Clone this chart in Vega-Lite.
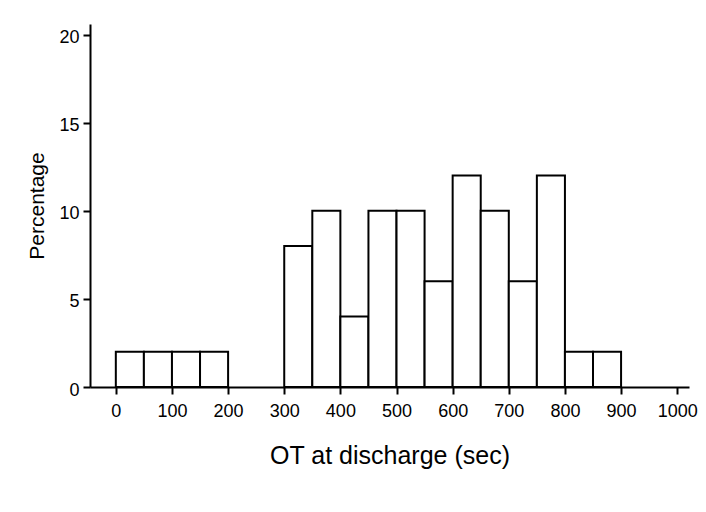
{
  "$schema": "https://vega.github.io/schema/vega-lite/v6.json",
  "autosize": "none",
  "width": 599,
  "height": 363,
  "padding": {"left": 90, "top": 24, "right": 17, "bottom": 125},
  "background": "white",
  "data": {
    "values": [
      {"bin_start": 0, "bin_end": 50, "pct": 2},
      {"bin_start": 50, "bin_end": 100, "pct": 2},
      {"bin_start": 100, "bin_end": 150, "pct": 2},
      {"bin_start": 150, "bin_end": 200, "pct": 2},
      {"bin_start": 300, "bin_end": 350, "pct": 8},
      {"bin_start": 350, "bin_end": 400, "pct": 10},
      {"bin_start": 400, "bin_end": 450, "pct": 4},
      {"bin_start": 450, "bin_end": 500, "pct": 10},
      {"bin_start": 500, "bin_end": 550, "pct": 10},
      {"bin_start": 550, "bin_end": 600, "pct": 6},
      {"bin_start": 600, "bin_end": 650, "pct": 12},
      {"bin_start": 650, "bin_end": 700, "pct": 10},
      {"bin_start": 700, "bin_end": 750, "pct": 6},
      {"bin_start": 750, "bin_end": 800, "pct": 12},
      {"bin_start": 800, "bin_end": 850, "pct": 2},
      {"bin_start": 850, "bin_end": 900, "pct": 2}
    ]
  },
  "mark": {"type": "rect", "fill": "white", "stroke": "black", "strokeWidth": 2},
  "encoding": {
    "x": {
      "field": "bin_start",
      "type": "quantitative",
      "scale": {"domain": [-46, 1021], "nice": false, "zero": false},
      "axis": {
        "values": [0, 100, 200, 300, 400, 500, 600, 700, 800, 900, 1000],
        "format": "d",
        "title": "OT at discharge (sec)",
        "titleFontSize": 25,
        "titleFontWeight": "normal",
        "titleBaseline": "alphabetic",
        "titleX": 299.5,
        "titleY": 76,
        "tickSize": 7,
        "labelPadding": 8,
        "labelFontSize": 18
      }
    },
    "x2": {"field": "bin_end"},
    "y": {
      "field": "pct",
      "type": "quantitative",
      "scale": {"domain": [0, 20.6], "nice": false},
      "axis": {
        "values": [0, 5, 10, 15, 20],
        "format": "d",
        "title": "Percentage",
        "titleFontSize": 21,
        "titleFontWeight": "normal",
        "titleBaseline": "alphabetic",
        "titleAngle": -90,
        "titleX": -46.5,
        "titleY": 181.5,
        "tickSize": 7,
        "labelPadding": 4,
        "labelOffset": 3,
        "labelFontSize": 18
      }
    },
    "y2": {"datum": 0}
  },
  "config": {
    "font": "Liberation Sans",
    "view": {"stroke": null},
    "axis": {
      "grid": false,
      "domainColor": "black",
      "domainWidth": 2,
      "tickColor": "black",
      "tickWidth": 2,
      "labelColor": "black",
      "titleColor": "black",
      "labelFont": "Liberation Sans",
      "titleFont": "Liberation Sans"
    }
  }
}
